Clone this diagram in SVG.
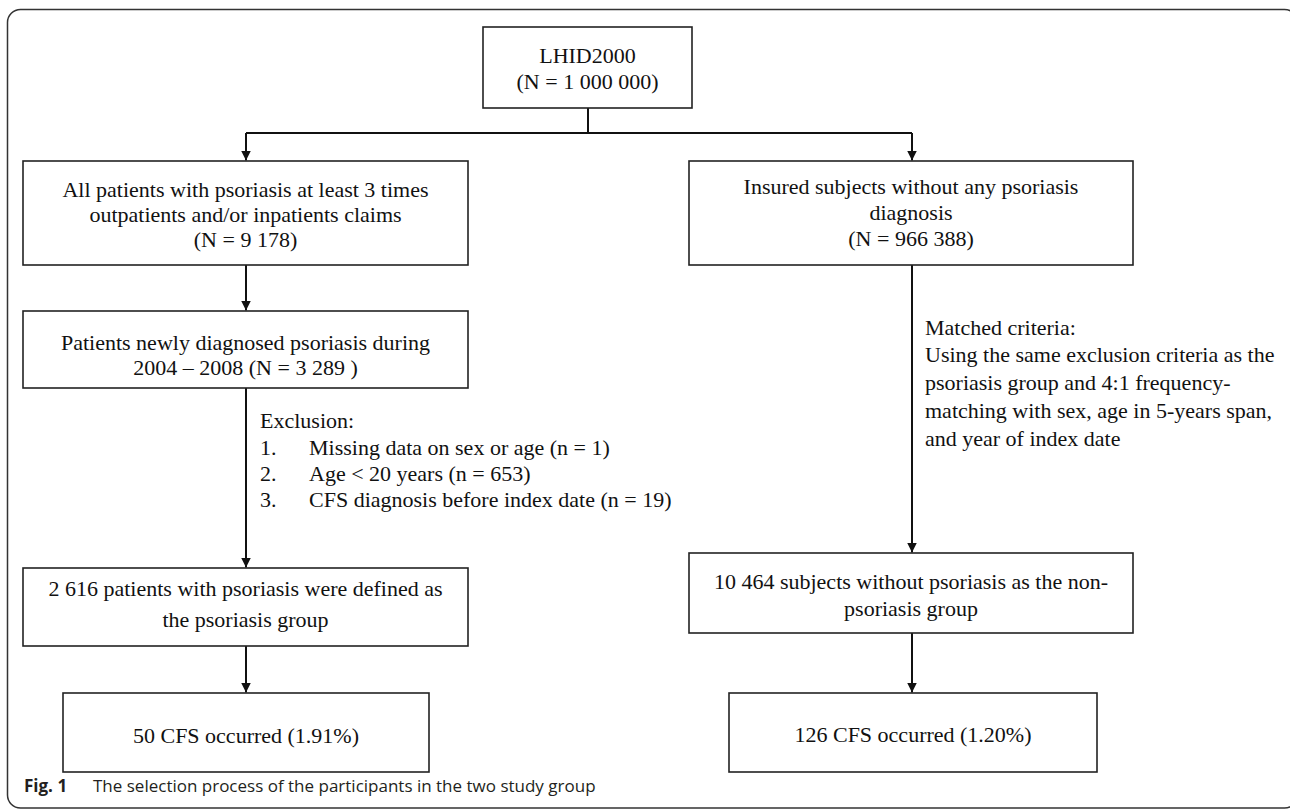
<svg xmlns="http://www.w3.org/2000/svg" width="1290" height="812" viewBox="0 0 1290 812">
<style>
.box{fill:#fff;stroke:#222;stroke-width:1.6}
.t{font-family:"Liberation Serif","Times New Roman",serif;font-size:22px;fill:#111}
.c{text-anchor:middle}
.conn{stroke:#111;stroke-width:2;fill:none}
.cap{font-family:"Open Sans","Liberation Sans",sans-serif;font-size:17px;fill:#231f20}
</style>
<defs>
<marker id="ah" markerUnits="userSpaceOnUse" markerWidth="11" markerHeight="10" refX="10" refY="5" orient="auto">
<path d="M0,0 L10,5 L0,10 z" fill="#111"/>
</marker>
</defs>
<rect x="7.5" y="9.5" width="1290" height="798.5" rx="13" fill="none" stroke="#333" stroke-width="1.5"/>
<g id="connectors">
<path class="conn" d="M588,108 V133"/>
<path class="conn" d="M246,133 H912"/>
<path class="conn" d="M246,133 V160.5" marker-end="url(#ah)"/>
<path class="conn" d="M912,133 V160.5" marker-end="url(#ah)"/>
<path class="conn" d="M246,265 V310.5" marker-end="url(#ah)"/>
<path class="conn" d="M246,388 V567.5" marker-end="url(#ah)"/>
<path class="conn" d="M246,646 V692.5" marker-end="url(#ah)"/>
<path class="conn" d="M912,265 V552.5" marker-end="url(#ah)"/>
<path class="conn" d="M912,633 V692.5" marker-end="url(#ah)"/>
</g>
<g id="n-lhid">
<rect class="box" x="483" y="27" width="209" height="81"/>
<text class="t c" x="587.5" y="63">LHID2000</text>
<text class="t c" x="587.5" y="89">(N = 1 000 000)</text>
</g>
<g id="n-all">
<rect class="box" x="23" y="161" width="445" height="104"/>
<text class="t c" x="245.5" y="197">All patients with psoriasis at least 3 times</text>
<text class="t c" x="245.5" y="222">outpatients and/or inpatients claims</text>
<text class="t c" x="245.5" y="247">(N = 9 178)</text>
</g>
<g id="n-insured">
<rect class="box" x="689" y="161" width="444" height="104"/>
<text class="t c" x="911" y="194">Insured subjects without any psoriasis</text>
<text class="t c" x="911" y="220">diagnosis</text>
<text class="t c" x="911" y="246">(N = 966 388)</text>
</g>
<g id="n-new">
<rect class="box" x="23" y="311" width="445" height="77"/>
<text class="t c" x="245.5" y="350">Patients newly diagnosed psoriasis during</text>
<text class="t c" x="245.5" y="375">2004 – 2008 (N = 3 289 )</text>
</g>
<g id="l-exclusion">
<text class="t" x="260" y="428">Exclusion:</text>
<text class="t" x="260" y="455">1.</text>
<text class="t" x="309" y="455">Missing data on sex or age (n = 1)</text>
<text class="t" x="260" y="481">2.</text>
<text class="t" x="309" y="481">Age &lt; 20 years (n = 653)</text>
<text class="t" x="260" y="507">3.</text>
<text class="t" x="309" y="507">CFS diagnosis before index date (n = 19)</text>
</g>
<g id="l-matched">
<text class="t" x="925" y="335">Matched criteria:</text>
<text class="t" x="925" y="362">Using the same exclusion criteria as the</text>
<text class="t" x="925" y="390">psoriasis group and 4:1 frequency-</text>
<text class="t" x="925" y="418">matching with sex, age in 5-years span,</text>
<text class="t" x="925" y="446">and year of index date</text>
</g>
<g id="n-psogroup">
<rect class="box" x="23" y="568" width="445" height="78"/>
<text class="t c" x="245.5" y="596">2 616 patients with psoriasis were defined as</text>
<text class="t c" x="245.5" y="627">the psoriasis group</text>
</g>
<g id="n-nonpso">
<rect class="box" x="689" y="553" width="444" height="80"/>
<text class="t c" x="911" y="589">10 464 subjects without psoriasis as the non-</text>
<text class="t c" x="911" y="616">psoriasis group</text>
</g>
<g id="n-cfs-left">
<rect class="box" x="63" y="693" width="366" height="79"/>
<text class="t c" x="246" y="743">50 CFS occurred (1.91%)</text>
</g>
<g id="n-cfs-right">
<rect class="box" x="729" y="693" width="368" height="79"/>
<text class="t c" x="913" y="742">126 CFS occurred (1.20%)</text>
</g>
<g id="caption">
<text class="cap" x="24" y="792" font-weight="bold" font-size="18">Fig. 1</text>
<text class="cap" x="93" y="792">The selection process of the participants in the two study group</text>
</g>
</svg>
